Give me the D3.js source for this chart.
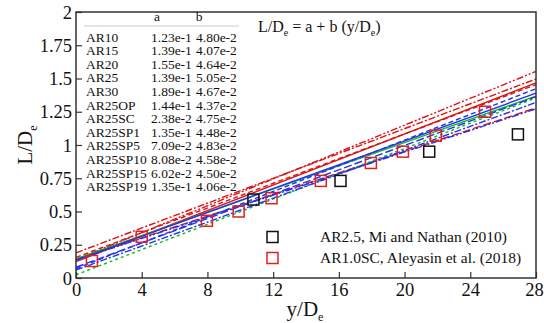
<!DOCTYPE html>
<html><head><meta charset="utf-8">
<script src="https://cdn.jsdelivr.net/npm/d3@7"></script>
<style>body{margin:0;background:#fff}svg text{font-family:"Liberation Serif","Times New Roman",Times,"DejaVu Serif",serif !important}</style>
</head><body><svg id="c" width="544" height="323"></svg>
<script>
const cases = ["AR10","AR15","AR20","AR25","AR30","AR25OP","AR25SC","AR25SP1","AR25SP5","AR25SP10","AR25SP15","AR25SP19"];
const aVals = [0.123,0.139,0.155,0.139,0.189,0.144,0.0238,0.135,0.0709,0.0808,0.0602,0.135];
const bVals = [0.0480,0.0407,0.0464,0.0505,0.0467,0.0437,0.0475,0.0448,0.0483,0.0458,0.0450,0.0406];
const aLabels = ["1.23e-1","1.39e-1","1.55e-1","1.39e-1","1.89e-1","1.44e-1","2.38e-2","1.35e-1","7.09e-2","8.08e-2","6.02e-2","1.35e-1"];
const bLabels = ["4.80e-2","4.07e-2","4.64e-2","5.05e-2","4.67e-2","4.37e-2","4.75e-2","4.48e-2","4.83e-2","4.58e-2","4.50e-2","4.06e-2"];
const lineColors = ["#dd1111","#dd1111","#dd1111","#dd1111","#dd1111","#11bb11","#11bb11","#2233ee","#2233ee","#2233ee","#2233ee","#2233ee"];
const lineDash = ["none","8,3","5,3","7,2,2,2,2,2","7,2,2,2","none","3,3","none","5,3","8,3","7,2,2,2","7,2,2,2,2,2"];
const miX = [10.8,16.1,21.5,26.9];
const miY = [0.59,0.73,0.95,1.08];
const alX = [0.97,4.0,7.97,9.9,11.9,14.9,17.95,19.9,21.9,24.9];
const alY = [0.128,0.31,0.43,0.50,0.60,0.73,0.865,0.95,1.07,1.25];
const xTicks = [0,4,8,12,16,20,24,28];
const yTicks = [0,0.25,0.5,0.75,1,1.25,1.5,1.75,2];
const legendNames = ["AR2.5, Mi and Nathan (2010)","AR1.0SC, Aleyasin et al. (2018)"];

const svg = d3.select("#c");
const L=76,R=536,T=12,B=278;
const x = d3.scaleLinear().domain([0,28]).range([L,R]);
const y = d3.scaleLinear().domain([0,2]).range([B,T]);

const g = svg.append("g");
cases.forEach((c,i)=>{
  g.append("line").attr("x1",x(0)).attr("x2",x(28))
   .attr("y1",y(aVals[i])).attr("y2",y(aVals[i]+bVals[i]*28))
   .attr("stroke",lineColors[i]).attr("stroke-width",1.4)
   .attr("stroke-dasharray",lineDash[i]);
});

const sq=11;
g.selectAll(".mi").data(miX).join("rect")
 .attr("x",(d)=>x(d)-sq/2).attr("y",(d,i)=>y(miY[i])-sq/2)
 .attr("width",sq).attr("height",sq).attr("fill","none").attr("stroke","#111").attr("stroke-width",1.5);
g.selectAll(".al").data(alX).join("rect")
 .attr("x",(d)=>x(d)-sq/2).attr("y",(d,i)=>y(alY[i])-sq/2)
 .attr("width",sq).attr("height",sq).attr("fill","none").attr("stroke","#e02020").attr("stroke-width",1.5);

const xa = svg.append("g").attr("transform",`translate(0,${B})`)
 .call(d3.axisBottom(x).tickValues(xTicks).tickSizeInner(-6).tickSizeOuter(0).tickPadding(3).tickFormat(d3.format("d")));
const ya = svg.append("g").attr("transform",`translate(${L},0)`)
 .call(d3.axisLeft(y).tickValues(yTicks).tickSizeInner(-6).tickSizeOuter(0).tickPadding(4).tickFormat(d=>String(d)));
[xa,ya].forEach(a=>{
  a.attr("font-family",null);
  a.selectAll("text").attr("font-size",18.5).attr("fill","#111");
  a.selectAll("line").attr("stroke","#333").attr("stroke-width",1.2);
  a.select(".domain").remove();
});
xa.selectAll("text").attr("dy","0.8em");
xa.selectAll(".tick").filter(d=>d===28).select("text").attr("dx",-2);
ya.selectAll("text").attr("dy","0.33em");
svg.append("rect").attr("x",L).attr("y",T).attr("width",R-L).attr("height",B-T)
 .attr("fill","none").attr("stroke","#333").attr("stroke-width",1.5);

const xt = svg.append("text").attr("x",305).attr("y",316).attr("text-anchor","middle").attr("font-size",21).attr("fill","#111");
xt.append("tspan").text("y/D");
xt.append("tspan").attr("font-size",12).attr("dy",5).text("e");
const yt = svg.append("text").attr("transform","translate(32,145) rotate(-90)").attr("text-anchor","middle").attr("font-size",21).attr("fill","#111");
yt.append("tspan").text("L/D");
yt.append("tspan").attr("font-size",12).attr("dy",5).text("e");

const eq = svg.append("text").attr("x",258).attr("y",32).attr("font-size",16).attr("fill","#111");
eq.append("tspan").text("L/D");
eq.append("tspan").attr("font-size",10).attr("dy",4).text("e");
eq.append("tspan").attr("dy",-4).text(" = a + b (y/D");
eq.append("tspan").attr("font-size",10).attr("dy",4).text("e");
eq.append("tspan").attr("dy",-4).text(")");

const tb = svg.append("g").attr("font-size",13.5).attr("fill","#111");
tb.append("text").attr("x",157).attr("y",21).attr("text-anchor","middle").text("a");
tb.append("text").attr("x",199).attr("y",21).attr("text-anchor","middle").text("b");
tb.append("line").attr("x1",84).attr("x2",239).attr("y1",26).attr("y2",26).attr("stroke","#ccc").attr("stroke-width",1);
cases.forEach((c,i)=>{
  const yy = 41.5 + i*13.6;
  tb.append("text").attr("x",86).attr("y",yy).text(c);
  tb.append("text").attr("x",151).attr("y",yy).text(aLabels[i]);
  tb.append("text").attr("x",196).attr("y",yy).text(bLabels[i]);
});

const lg = svg.append("g");
[["#111",0],["#e02020",1]].forEach(([col,i])=>{
  const yy = 237 + i*21;
  lg.append("rect").attr("x",267).attr("y",yy-5.5).attr("width",11).attr("height",11).attr("fill","none").attr("stroke",col).attr("stroke-width",1.5);
  lg.append("text").attr("x",320).attr("y",yy+5).attr("font-size",15.5).attr("fill","#111").text(legendNames[i]);
});
</script></body></html>
